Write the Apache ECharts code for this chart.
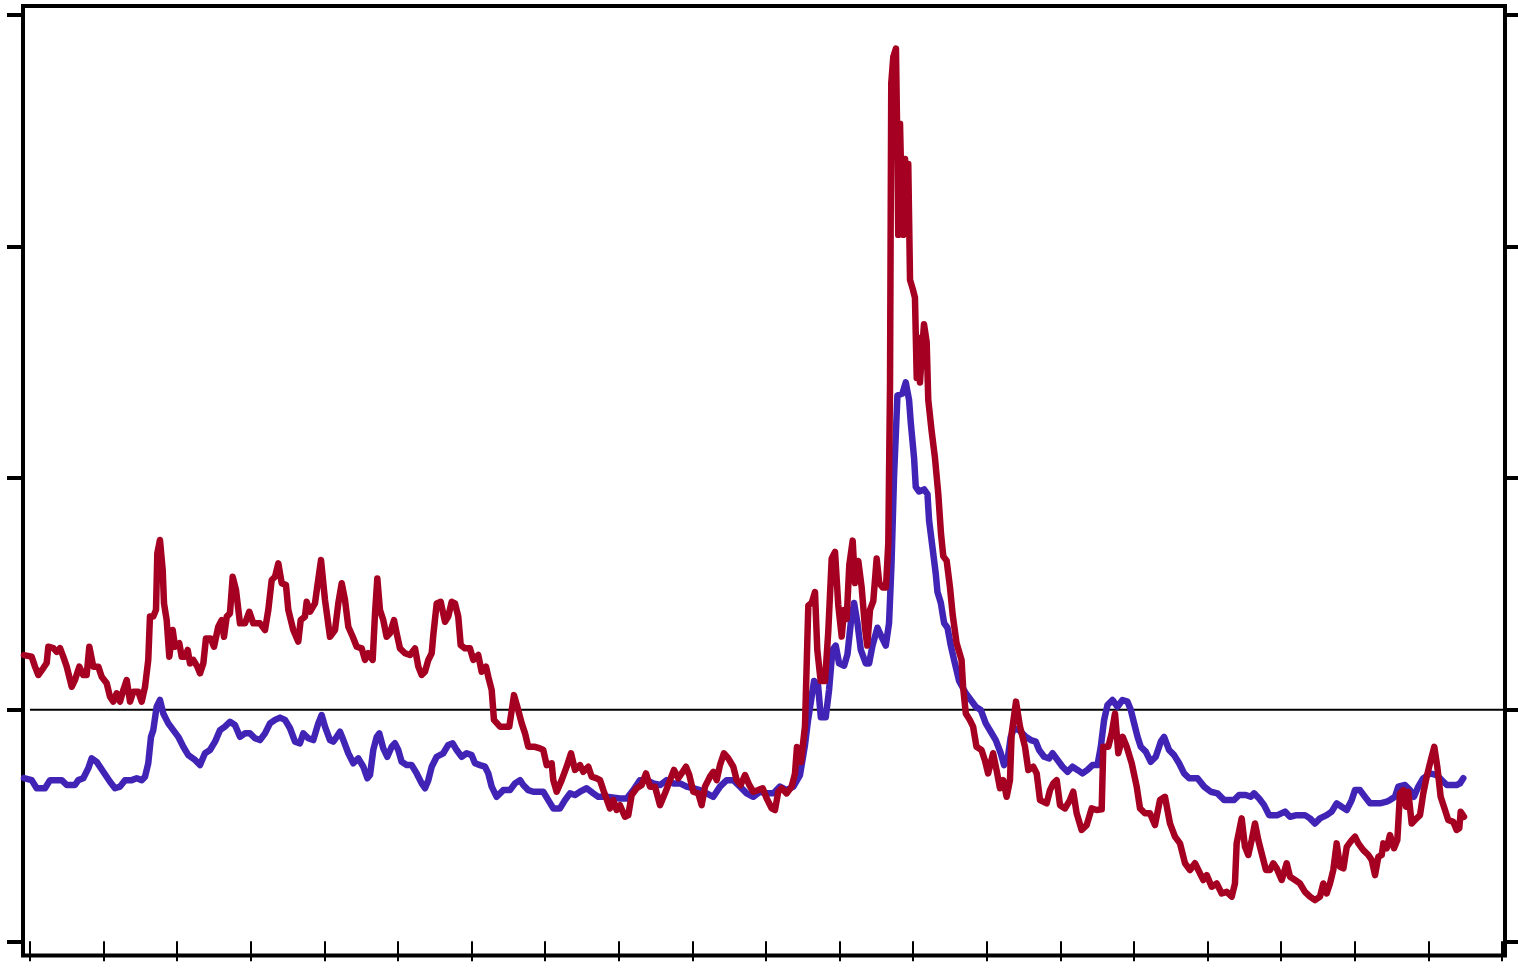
<!DOCTYPE html>
<html>
<head>
<meta charset="utf-8">
<script src="https://cdn.jsdelivr.net/npm/echarts@6/dist/echarts.min.js"></script>
<style>
html,body{margin:0;padding:0;background:#fff;}
#chart{width:1518px;height:978px;}
</style>
</head>
<body>
<div id="chart"></div>
<script>
// Tick positions (years on x, ratio on y) and reference level
const xTickYears = [1997,1998,1999,2000,2001,2002,2003,2004,2005,2006,2007,2008,2009,2010,2011,2012,2013,2014,2015,2016,2017];
const yTickValues = [0,1,2,3,4];
const referenceLevel = 1;
const xMin = 1996.905, xMax = 2017.041;
const yMin = -0.061, yMax = 4.038;

// Red series
const redDates = [
1996.918,1997.023,1997.068,1997.113,1997.181,1997.227,1997.249,1997.317,1997.363,1997.408,
1997.452,1997.499,1997.567,1997.611,1997.670,1997.724,1997.770,1997.806,1997.860,1997.928,
1997.974,1998.042,1998.087,1998.132,1998.178,1998.223,1998.268,1998.314,1998.359,1998.404,
1998.471,1998.518,1998.563,1998.607,1998.630,1998.675,1998.712,1998.730,1998.766,1998.803,
1998.821,1998.857,1998.893,1998.939,1998.970,1999.029,1999.061,1999.106,1999.143,1999.174,
1999.219,1999.273,1999.310,1999.355,1999.391,1999.455,1999.500,1999.558,1999.605,1999.636,
1999.673,1999.717,1999.754,1999.799,1999.853,1999.921,1999.980,2000.034,2000.125,2000.193,
2000.238,2000.284,2000.329,2000.374,2000.420,2000.478,2000.510,2000.577,2000.645,2000.678,
2000.736,2000.759,2000.804,2000.872,2000.903,2000.954,2001.008,2001.076,2001.144,2001.189,
2001.235,2001.280,2001.325,2001.385,2001.439,2001.507,2001.552,2001.596,2001.656,2001.688,
2001.719,2001.755,2001.800,2001.846,2001.891,2001.946,2001.982,2002.027,2002.095,2002.163,
2002.231,2002.276,2002.322,2002.367,2002.412,2002.458,2002.480,2002.526,2002.580,2002.639,
2002.683,2002.730,2002.774,2002.819,2002.852,2002.910,2002.978,2003.023,2003.091,2003.137,
2003.196,2003.227,2003.273,2003.304,2003.386,2003.454,2003.512,2003.576,2003.621,2003.681,
2003.726,2003.770,2003.793,2003.861,2003.929,2003.974,2004.020,2004.088,2004.110,2004.156,
2004.224,2004.292,2004.351,2004.405,2004.473,2004.518,2004.586,2004.632,2004.700,2004.745,
2004.790,2004.880,2004.925,2004.971,2005.016,2005.084,2005.129,2005.175,2005.243,2005.311,
2005.370,2005.424,2005.492,2005.560,2005.628,2005.696,2005.750,2005.808,2005.868,2005.913,
2005.958,2006.012,2006.080,2006.126,2006.171,2006.239,2006.284,2006.330,2006.375,2006.429,
2006.488,2006.556,2006.602,2006.656,2006.715,2006.773,2006.827,2006.895,2006.955,2007.010,
2007.077,2007.122,2007.167,2007.213,2007.281,2007.349,2007.394,2007.421,2007.476,2007.530,
2007.575,2007.621,2007.666,2007.697,2007.743,2007.802,2007.846,2007.893,2007.938,2007.982,
2008.029,2008.060,2008.096,2008.132,2008.178,2008.209,2008.254,2008.300,2008.345,2008.376,
2008.413,2008.458,2008.504,2008.539,2008.586,2008.630,2008.662,2008.685,2008.702,2008.730,
2008.766,2008.784,2008.797,2008.821,2008.844,2008.865,2008.889,2008.912,2008.933,2008.957,
2008.993,2009.024,2009.048,2009.069,2009.092,2009.129,2009.147,2009.183,2009.205,2009.251,
2009.296,2009.341,2009.378,2009.409,2009.455,2009.500,2009.537,2009.589,2009.657,2009.678,
2009.715,2009.769,2009.814,2009.860,2009.928,2009.973,2010.018,2010.086,2010.132,2010.179,
2010.224,2010.270,2010.315,2010.338,2010.397,2010.451,2010.519,2010.564,2010.632,2010.678,
2010.723,2010.814,2010.859,2010.904,2010.950,2010.995,2011.063,2011.130,2011.175,2011.221,
2011.289,2011.357,2011.425,2011.493,2011.561,2011.583,2011.651,2011.697,2011.742,2011.787,
2011.846,2011.901,2011.969,2012.037,2012.082,2012.149,2012.217,2012.285,2012.353,2012.421,
2012.489,2012.557,2012.625,2012.693,2012.761,2012.829,2012.874,2012.942,2012.988,2013.056,
2013.124,2013.192,2013.260,2013.328,2013.372,2013.395,2013.463,2013.508,2013.553,2013.599,
2013.644,2013.689,2013.735,2013.793,2013.848,2013.893,2013.939,2014.007,2014.075,2014.120,
2014.188,2014.255,2014.323,2014.391,2014.459,2014.527,2014.572,2014.618,2014.663,2014.708,
2014.754,2014.799,2014.845,2014.891,2014.958,2015.003,2015.048,2015.116,2015.184,2015.230,
2015.275,2015.320,2015.366,2015.388,2015.434,2015.478,2015.533,2015.578,2015.614,2015.659,
2015.696,2015.727,2015.773,2015.818,2015.886,2015.931,2015.977,2016.022,2016.080,2016.121,
2016.167,2016.226,2016.270,2016.338,2016.384,2016.420,2016.439,2016.484
];
const redValues = [
1.236,1.229,1.186,1.150,1.180,1.202,1.272,1.266,1.250,1.266,
1.229,1.186,1.099,1.128,1.186,1.150,1.150,1.272,1.186,1.186,
1.142,1.114,1.056,1.035,1.071,1.035,1.085,1.128,1.035,1.078,
1.078,1.035,1.099,1.215,1.402,1.402,1.431,1.675,1.733,1.603,
1.459,1.387,1.229,1.344,1.272,1.287,1.229,1.229,1.258,1.200,
1.215,1.186,1.157,1.200,1.308,1.308,1.272,1.358,1.387,1.315,
1.402,1.416,1.574,1.517,1.373,1.373,1.423,1.373,1.373,1.344,
1.431,1.560,1.574,1.632,1.546,1.538,1.431,1.344,1.294,1.387,
1.402,1.466,1.423,1.459,1.531,1.646,1.474,1.315,1.344,1.459,
1.546,1.474,1.358,1.315,1.272,1.265,1.215,1.244,1.215,1.416,
1.567,1.431,1.387,1.315,1.330,1.387,1.330,1.265,1.244,1.236,
1.265,1.186,1.150,1.164,1.215,1.244,1.323,1.459,1.466,1.380,
1.402,1.466,1.459,1.402,1.279,1.265,1.265,1.215,1.236,1.164,
1.186,1.142,1.085,0.956,0.927,0.927,0.927,1.063,1.013,0.941,
0.898,0.840,0.848,0.840,0.833,0.826,0.761,0.769,0.696,0.646,
0.696,0.754,0.812,0.740,0.761,0.732,0.754,0.711,0.704,0.696,
0.653,0.574,0.610,0.567,0.588,0.538,0.545,0.632,0.661,0.675,
0.725,0.668,0.668,0.588,0.639,0.696,0.740,0.704,0.732,0.754,
0.718,0.646,0.639,0.588,0.668,0.711,0.732,0.696,0.761,0.812,
0.790,0.754,0.696,0.675,0.718,0.675,0.646,0.653,0.661,0.617,
0.574,0.567,0.646,0.661,0.639,0.668,0.725,0.839,0.774,0.930,
1.450,1.461,1.508,1.258,1.124,1.124,1.336,1.653,1.681,1.452,
1.316,1.431,1.392,1.625,1.730,1.547,1.642,1.528,1.354,1.277,
1.431,1.469,1.653,1.547,1.528,1.528,1.720,2.393,3.704,3.819,
3.854,3.453,3.050,3.530,3.203,3.050,3.378,3.127,3.356,2.855,
2.818,2.779,2.432,2.606,2.413,2.588,2.664,2.588,2.337,2.202,
2.087,1.931,1.759,1.662,1.643,1.528,1.409,1.288,1.215,1.099,
0.984,0.956,0.927,0.840,0.826,0.783,0.725,0.812,0.740,0.661,
0.696,0.624,0.696,0.898,1.035,0.927,0.840,0.740,0.754,0.725,
0.610,0.596,0.653,0.682,0.696,0.588,0.574,0.610,0.646,0.553,
0.481,0.502,0.574,0.567,0.570,0.840,0.840,0.898,0.984,0.812,
0.883,0.840,0.769,0.668,0.574,0.553,0.553,0.502,0.610,0.624,
0.509,0.452,0.423,0.337,0.308,0.337,0.308,0.265,0.286,0.236,
0.250,0.207,0.214,0.193,0.250,0.423,0.531,0.408,0.373,0.437,
0.509,0.437,0.380,0.308,0.308,0.337,0.315,0.265,0.337,0.279,
0.265,0.250,0.214,0.193,0.178,0.193,0.250,0.207,0.250,0.308,
0.423,0.322,0.315,0.408,0.437,0.452,0.423,0.394,0.373,0.351,
0.286,0.365,0.373,0.423,0.402,0.459,0.402,0.437,0.639,0.653,
0.581,0.646,0.509,0.524,0.545,0.639,0.711,0.769,0.840,0.754,
0.624,0.567,0.524,0.516,0.481,0.488,0.560,0.538
];

// Blue series
const blueDates = [
1996.918,1997.023,1997.091,1997.204,1997.272,1997.431,1997.499,1997.611,1997.656,1997.724,
1997.792,1997.838,1997.906,1997.996,1998.087,1998.155,1998.223,1998.291,1998.382,1998.450,
1998.518,1998.563,1998.607,1998.644,1998.675,1998.721,1998.766,1998.811,1998.879,1998.947,
1999.015,1999.083,1999.151,1999.242,1999.310,1999.378,1999.446,1999.514,1999.582,1999.649,
1999.717,1999.785,1999.853,1999.921,1999.989,2000.057,2000.125,2000.193,2000.261,2000.329,
2000.397,2000.465,2000.533,2000.601,2000.668,2000.713,2000.781,2000.849,2000.917,2000.963,
2001.008,2001.076,2001.121,2001.167,2001.212,2001.257,2001.325,2001.393,2001.461,2001.529,
2001.584,2001.620,2001.664,2001.711,2001.746,2001.800,2001.855,2001.914,2001.959,2002.004,
2002.050,2002.118,2002.186,2002.254,2002.322,2002.367,2002.412,2002.458,2002.526,2002.615,
2002.683,2002.743,2002.797,2002.865,2002.933,2003.001,2003.046,2003.114,2003.182,2003.227,
2003.273,2003.341,2003.431,2003.522,2003.590,2003.658,2003.702,2003.770,2003.838,2003.974,
2004.042,2004.110,2004.201,2004.269,2004.337,2004.405,2004.473,2004.564,2004.654,2004.722,
2004.836,2005.016,2005.107,2005.197,2005.288,2005.379,2005.469,2005.560,2005.651,2005.740,
2005.832,2005.922,2006.012,2006.103,2006.194,2006.284,2006.375,2006.466,2006.556,2006.647,
2006.738,2006.827,2006.918,2007.010,2007.101,2007.190,2007.281,2007.372,2007.462,2007.530,
2007.571,2007.653,2007.708,2007.745,2007.812,2007.857,2007.903,2007.948,2007.993,2008.061,
2008.107,2008.152,2008.197,2008.243,2008.288,2008.356,2008.401,2008.447,2008.515,2008.569,
2008.628,2008.672,2008.705,2008.740,2008.786,2008.854,2008.899,2008.944,2008.967,2009.012,
2009.035,2009.080,2009.148,2009.194,2009.216,2009.262,2009.307,2009.330,2009.375,2009.420,
2009.466,2009.511,2009.556,2009.624,2009.715,2009.783,2009.851,2009.918,2009.986,2010.054,
2010.122,2010.190,2010.235,2010.281,2010.326,2010.371,2010.439,2010.530,2010.598,2010.666,
2010.711,2010.779,2010.847,2010.893,2010.961,2011.029,2011.097,2011.165,2011.232,2011.300,
2011.368,2011.436,2011.504,2011.549,2011.594,2011.640,2011.708,2011.776,2011.844,2011.912,
2011.957,2012.002,2012.048,2012.092,2012.160,2012.228,2012.296,2012.364,2012.409,2012.477,
2012.545,2012.613,2012.681,2012.749,2012.863,2012.953,2013.043,2013.134,2013.224,2013.360,
2013.428,2013.519,2013.587,2013.632,2013.700,2013.768,2013.836,2013.950,2014.052,2014.120,
2014.211,2014.323,2014.391,2014.459,2014.527,2014.618,2014.686,2014.754,2014.822,2014.891,
2014.958,2015.003,2015.071,2015.139,2015.207,2015.343,2015.434,2015.478,2015.546,2015.591,
2015.682,2015.750,2015.804,2015.863,2015.931,2016.022,2016.113,2016.181,2016.251,2016.384,
2016.429,2016.474
];
const blueValues = [
0.705,0.696,0.661,0.661,0.696,0.696,0.675,0.675,0.696,0.704,
0.747,0.790,0.775,0.732,0.689,0.661,0.668,0.696,0.696,0.704,
0.696,0.711,0.769,0.883,0.912,1.013,1.042,0.984,0.941,0.912,
0.883,0.840,0.804,0.783,0.761,0.812,0.826,0.862,0.912,0.927,
0.948,0.934,0.883,0.898,0.898,0.877,0.869,0.898,0.941,0.956,
0.966,0.956,0.920,0.862,0.855,0.898,0.877,0.869,0.941,0.977,
0.927,0.869,0.862,0.883,0.905,0.869,0.812,0.769,0.790,0.754,
0.704,0.718,0.826,0.883,0.898,0.833,0.797,0.840,0.855,0.826,
0.775,0.761,0.761,0.725,0.682,0.661,0.696,0.754,0.797,0.812,
0.848,0.855,0.826,0.797,0.812,0.804,0.769,0.761,0.754,0.725,
0.668,0.624,0.653,0.653,0.682,0.696,0.675,0.653,0.646,0.646,
0.610,0.574,0.574,0.610,0.639,0.632,0.646,0.661,0.639,0.624,
0.624,0.617,0.617,0.653,0.696,0.696,0.682,0.675,0.696,0.682,
0.682,0.668,0.661,0.653,0.639,0.624,0.668,0.696,0.696,0.668,
0.639,0.624,0.646,0.639,0.639,0.668,0.653,0.668,0.718,0.848,
0.954,1.124,1.104,0.968,0.968,1.085,1.258,1.277,1.200,1.190,
1.239,1.374,1.461,1.374,1.258,1.200,1.200,1.277,1.354,1.316,
1.277,1.374,1.625,2.009,2.356,2.365,2.413,2.337,2.240,2.087,
1.962,1.942,1.951,1.931,1.817,1.701,1.586,1.508,1.462,1.374,
1.354,1.277,1.215,1.124,1.071,1.042,1.013,0.999,0.941,0.905,
0.869,0.812,0.761,0.783,0.883,0.920,0.912,0.883,0.869,0.862,
0.826,0.797,0.790,0.812,0.783,0.754,0.732,0.754,0.740,0.725,
0.740,0.761,0.761,0.840,0.956,1.020,1.042,1.013,1.042,1.035,
0.999,0.941,0.883,0.840,0.819,0.775,0.797,0.862,0.883,0.826,
0.804,0.769,0.725,0.704,0.704,0.668,0.646,0.639,0.610,0.610,
0.632,0.632,0.624,0.639,0.617,0.588,0.545,0.545,0.560,0.538,
0.545,0.545,0.531,0.509,0.531,0.545,0.560,0.596,0.581,0.567,
0.610,0.653,0.653,0.624,0.596,0.596,0.603,0.610,0.624,0.668,
0.675,0.653,0.624,0.668,0.704,0.725,0.718,0.696,0.675,0.675,
0.682,0.704
];

const zip = (d, v) => d.map((x, i) => [x, v[i]]);

const chart = echarts.init(document.getElementById('chart'), null, {renderer: 'canvas'});

const yAxisBase = (pos) => ({
  type: 'value',
  position: pos,
  min: yMin,
  max: yMax,
  axisLine: {show: false},
  axisTick: {show: true, inside: false, length: 16, customValues: yTickValues, lineStyle: {color: '#000', width: 4}},
  axisLabel: {show: false},
  splitLine: {show: false}
});

chart.setOption({
  animation: false,
  backgroundColor: '#fff',
  grid: {
    left: 23, right: 13, top: 6, bottom: 22.5,
    show: true, borderColor: '#000', borderWidth: 4, backgroundColor: 'transparent',
    containLabel: false
  },
  xAxis: {
    type: 'value',
    min: xMin,
    max: xMax,
    offset: 5,
    axisLine: {show: false},
    axisTick: {show: true, inside: false, length: 20, customValues: xTickYears, lineStyle: {color: '#000', width: 2}},
    axisLabel: {show: false},
    splitLine: {show: false}
  },
  yAxis: [yAxisBase('left'), yAxisBase('right')],
  series: [
    {
      name: 'reference',
      type: 'line',
      z: 1,
      silent: true,
      showSymbol: false,
      data: [[xTickYears[0], referenceLevel], [xMax, referenceLevel]],
      lineStyle: {color: '#000', width: 2}
    },
    {
      name: 'blue',
      type: 'line',
      z: 2,
      showSymbol: false,
      data: zip(blueDates, blueValues),
      lineStyle: {color: '#4124b6', width: 6.5, cap: 'round', join: 'round'}
    },
    {
      name: 'red',
      type: 'line',
      z: 3,
      showSymbol: false,
      data: zip(redDates, redValues),
      lineStyle: {color: '#a50021', width: 6.5, cap: 'round', join: 'round'}
    }
  ]
});
</script>
</body>
</html>
